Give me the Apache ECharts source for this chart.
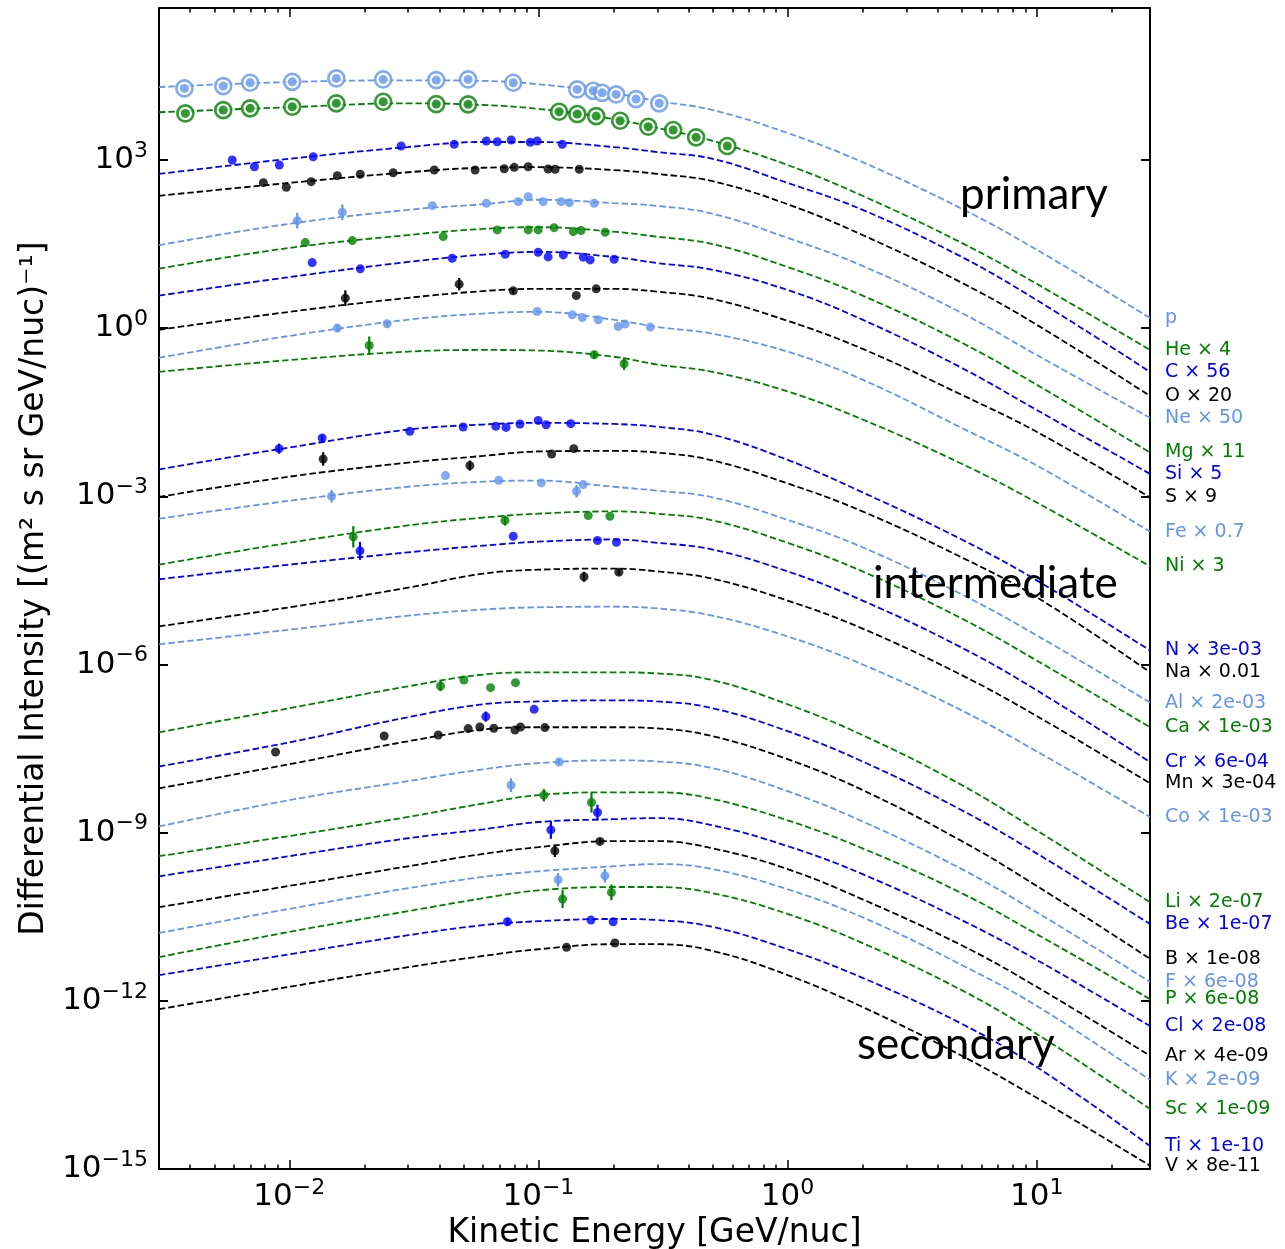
<!DOCTYPE html>
<html>
<head>
<meta charset="utf-8">
<script src="https://cdn.jsdelivr.net/npm/echarts@6/dist/echarts.min.js"></script>
<style>
  html, body { margin: 0; padding: 0; background: #fff; }
  #chart { width: 1285px; height: 1249px; }
</style>
</head>
<body>
<div id="chart"></div>
<script>
const energies = [0.003, 0.01, 0.03, 0.06, 0.1, 0.2, 0.3, 0.5, 1, 2, 5, 10, 28.5];

const labels = [
  'p', 'He × 4', 'C × 56', 'O × 20', 'Ne × 50', 'Mg × 11', 'Si × 5', 'S × 9', 'Fe × 0.7', 'Ni × 3',
  'N × 3e-03', 'Na × 0.01', 'Al × 2e-03', 'Ca × 1e-03', 'Cr × 6e-04', 'Mn × 3e-04', 'Co × 1e-03',
  'Li × 2e-07', 'Be × 1e-07', 'B × 1e-08', 'F × 6e-08', 'P × 6e-08', 'Cl × 2e-08', 'Ar × 4e-09',
  'K × 2e-09', 'Sc × 1e-09', 'Ti × 1e-10', 'V × 8e-11'
];

// model curves, log10 of intensity at each energy above
const curves = [
  [4.30, 4.39, 4.42, 4.41, 4.35, 4.19, 4.05, 3.89, 3.48, 2.96, 2.13, 1.40, 0.18],
  [3.85, 3.94, 4.01, 3.98, 3.91, 3.73, 3.57, 3.34, 2.91, 2.36, 1.52, 0.79, -0.39],
  [2.75, 3.02, 3.23, 3.32, 3.32, 3.23, 3.14, 3.02, 2.59, 2.11, 1.27, 0.50, -0.78],
  [2.36, 2.59, 2.78, 2.86, 2.87, 2.82, 2.75, 2.62, 2.21, 1.66, 0.81, 0.06, -1.21],
  [1.48, 1.86, 2.11, 2.21, 2.29, 2.23, 2.18, 2.04, 1.61, 1.11, 0.27, -0.48, -1.60],
  [1.06, 1.43, 1.66, 1.77, 1.80, 1.72, 1.63, 1.50, 1.09, 0.58, -0.26, -1.01, -2.22],
  [0.58, 0.91, 1.18, 1.31, 1.36, 1.27, 1.16, 1.04, 0.68, 0.15, -0.71, -1.46, -2.60],
  [-0.03, 0.29, 0.54, 0.66, 0.70, 0.70, 0.65, 0.52, 0.13, -0.37, -1.19, -1.85, -3.02],
  [-0.53, -0.14, 0.15, 0.26, 0.29, 0.15, 0.02, -0.10, -0.42, -0.92, -1.78, -2.45, -3.63],
  [-0.78, -0.57, -0.42, -0.39, -0.40, -0.51, -0.65, -0.78, -1.13, -1.63, -2.42, -3.11, -4.25],
  [-2.52, -2.13, -1.81, -1.72, -1.69, -1.71, -1.76, -1.90, -2.35, -2.93, -3.77, -4.50, -5.75],
  [-3.01, -2.65, -2.40, -2.28, -2.20, -2.19, -2.22, -2.36, -2.77, -3.27, -4.09, -4.80, -6.14],
  [-3.40, -3.08, -2.83, -2.74, -2.72, -2.83, -2.90, -3.02, -3.42, -3.91, -4.75, -5.48, -6.68],
  [-4.22, -3.83, -3.52, -3.38, -3.31, -3.27, -3.31, -3.43, -3.83, -4.34, -5.18, -5.93, -7.12],
  [-4.48, -4.22, -4.00, -3.88, -3.81, -3.77, -3.83, -3.95, -4.34, -4.86, -5.70, -6.46, -7.74],
  [-5.32, -4.98, -4.63, -4.38, -4.31, -4.29, -4.34, -4.47, -4.86, -5.36, -6.19, -6.92, -8.12],
  [-5.64, -5.38, -5.13, -5.02, -4.98, -4.97, -5.00, -5.13, -5.50, -6.00, -6.82, -7.55, -8.72],
  [-7.21, -6.78, -6.39, -6.18, -6.14, -6.14, -6.16, -6.28, -6.71, -7.26, -8.15, -8.96, -10.24],
  [-7.82, -7.39, -6.94, -6.71, -6.66, -6.64, -6.66, -6.78, -7.19, -7.73, -8.60, -9.37, -10.63],
  [-8.21, -7.78, -7.37, -7.16, -7.12, -7.12, -7.14, -7.28, -7.69, -8.24, -9.15, -9.95, -11.25],
  [-8.89, -8.42, -8.08, -7.87, -7.76, -7.71, -7.73, -7.85, -8.26, -8.80, -9.65, -10.42, -11.66],
  [-9.42, -9.06, -8.72, -8.48, -8.33, -8.28, -8.28, -8.40, -8.78, -9.28, -10.08, -10.81, -11.97],
  [-9.78, -9.42, -9.10, -8.94, -8.81, -8.76, -8.74, -8.87, -9.24, -9.74, -10.56, -11.27, -12.45],
  [-10.33, -9.95, -9.60, -9.38, -9.26, -9.15, -9.15, -9.28, -9.65, -10.19, -11.01, -11.75, -12.98],
  [-10.79, -10.36, -9.99, -9.79, -9.69, -9.60, -9.56, -9.65, -10.01, -10.51, -11.36, -12.09, -13.41],
  [-11.22, -10.77, -10.40, -10.17, -10.03, -9.97, -9.97, -10.08, -10.45, -10.97, -11.81, -12.59, -13.93],
  [-11.54, -11.17, -10.83, -10.65, -10.58, -10.54, -10.56, -10.68, -11.08, -11.59, -12.41, -13.18, -14.59],
  [-12.15, -11.75, -11.40, -11.20, -11.08, -10.99, -10.99, -11.11, -11.54, -12.11, -12.98, -13.73, -14.94]
];

// measured points: log10 energy, log10 intensity, error half-width (decades)
const ptsE = [
  [-2.421, -2.265, -2.157, -1.988, -1.811, -1.623, -1.410, -1.282, -1.101, -0.844, -0.780, -0.744, -0.688, -0.608, -0.515],
  [-2.417, -2.265, -2.157, -1.988, -1.811, -1.623, -1.410, -1.282, -0.917, -0.844, -0.768, -0.672, -0.559, -0.459, -0.367, -0.242],
  [-2.229, -2.140, -2.040, -1.904, -1.551, -1.338, -1.209, -1.165, -1.109, -1.033, -1.005, -0.904],
  [-2.104, -2.012, -1.912, -1.807, -1.715, -1.583, -1.418, -1.254, -1.137, -1.097, -1.041, -0.961, -0.933, -0.836],
  [-1.968, -1.787, -1.426, -1.209, -1.081, -1.041, -0.981, -0.909, -0.876, -0.776],
  [-1.936, -1.747, -1.382, -1.165, -1.041, -1.001, -0.937, -0.860, -0.829, -0.732],
  [-1.908, -1.715, -1.346, -1.133, -1.001, -0.961, -0.900, -0.820, -0.792, -0.696],
  [-1.775, -1.318, -1.101, -0.848, -0.768],
  [-1.807, -1.607, -1.005, -0.864, -0.824, -0.760, -0.680, -0.652, -0.551],
  [-1.679, -0.776, -0.656],
  [-2.041, -1.868, -1.516, -1.302, -1.171, -1.130, -1.074, -1.001, -0.969, -0.870],
  [-1.864, -1.275, -0.947, -0.858],
  [-1.830, -1.373, -1.159, -0.988, -0.847, -0.820],
  [-1.743, -1.134, -0.800, -0.713],
  [-1.716, -1.101, -0.763, -0.687],
  [-0.817, -0.677],
  [],
  [-1.393, -1.299, -1.192, -1.092],
  [-1.211, -1.017],
  [-2.055, -1.619, -1.402, -1.282, -1.235, -1.179, -1.094, -1.072, -0.974],
  [-1.110, -0.917],
  [-0.978, -0.787],
  [-0.950, -0.763],
  [-0.934, -0.753],
  [-0.921, -0.733],
  [-0.903, -0.707],
  [-1.124, -0.789, -0.700],
  [-0.887, -0.693]
];
const ptsI = [
  [4.276, 4.317, 4.376, 4.393, 4.454, 4.436, 4.424, 4.436, 4.376, 4.258, 4.233, 4.197, 4.169, 4.085, 4.009],
  [3.830, 3.889, 3.920, 3.948, 4.009, 4.037, 3.996, 3.991, 3.859, 3.818, 3.782, 3.699, 3.592, 3.533, 3.403, 3.248],
  [2.998, 2.879, 2.909, 3.057, 3.248, 3.278, 3.337, 3.325, 3.355, 3.314, 3.337, 3.278],
  [2.594, 2.512, 2.612, 2.719, 2.744, 2.772, 2.820, 2.820, 2.843, 2.868, 2.879, 2.838, 2.833, 2.833],
  [1.917, 2.067, 2.184, 2.227, 2.256, 2.345, 2.256, 2.256, 2.238, 2.227],
  [1.525, 1.561, 1.632, 1.751, 1.751, 1.751, 1.792, 1.721, 1.742, 1.710],
  [1.169, 1.057, 1.247, 1.318, 1.354, 1.270, 1.306, 1.265, 1.217, 1.229],
  [0.534, 0.784, 0.665, 0.581, 0.700],
  [0.000, 0.077, 0.296, 0.237, 0.189, 0.148, 0.029, 0.071, 0.018],
  [-0.310, -0.476, -0.636],
  [-2.150, -1.960, -1.842, -1.764, -1.753, -1.771, -1.710, -1.646, -1.723, -1.705],
  [-2.334, -2.453, -2.245, -2.150],
  [-3.000, -2.631, -2.715, -2.762, -2.911, -2.792],
  [-3.724, -3.433, -3.344, -3.357],
  [-3.973, -3.713, -3.789, -3.820],
  [-4.436, -4.354],
  [],
  [-6.385, -6.278, -6.414, -6.325],
  [-6.930, -6.800],
  [-7.561, -7.276, -7.258, -7.144, -7.116, -7.139, -7.169, -7.116, -7.126],
  [-8.154, -7.739],
  [-8.333, -8.463],
  [-8.951, -8.641],
  [-9.325, -9.157],
  [-9.841, -9.770],
  [-10.185, -10.066],
  [-10.590, -10.560, -10.590],
  [-11.046, -10.969]
];
const ptsErr = [
  [], [], [], [],
  [0.14, 0.14],
  [], [],
  [0.14, 0.11, 0.05],
  [0.07, 0.05],
  [0.16, 0.07, 0.11],
  [0.09, 0.05],
  [0.12, 0.09],
  [0.11, 0, 0, 0, 0.11],
  [0.19, 0.09],
  [0.16],
  [0.09, 0.05],
  [],
  [0.09],
  [0.09],
  [],
  [0.12, 0.05],
  [0.11, 0.18],
  [0.16, 0.14],
  [0.11, 0.05],
  [0.12, 0.12],
  [0.16, 0.14],
  [0.07],
  []
];

const xMajor = [-2, -1, 0, 1];
const yMajor = [-15, -12, -9, -6, -3, 0, 3];

const palette = ['#6495ed', '#008000', '#0000ff', '#000000'];
const FONT = 'DejaVu Sans';
const xMin = Math.log10(0.003), xMax = Math.log10(28.5);
const yMin = -15, yMax = 5.71;

const xMinor = [];
for (let k = -3; k <= 1; k++) {
  for (let m = 2; m <= 9; m++) {
    const v = k + Math.log10(m);
    if (v > xMin + 0.01 && v < xMax) xMinor.push(v);
  }
}

function powLabel(v) {
  return '{b|10}{s|' + String(Math.round(v)).replace('-', '\u2212') + '}';
}
const rich = {
  b: { fontSize: 31, lineHeight: 40, fontFamily: FONT, color: '#000' },
  s: { fontSize: 22, lineHeight: 22, verticalAlign: 'top', fontFamily: FONT, color: '#000' }
};
const frame = { show: true, onZero: false, lineStyle: { color: '#000', width: 2 } };

function xAxisDef(pos, ticks, len, withLabel) {
  return {
    type: 'value', min: xMin, max: xMax, position: pos,
    axisLine: withLabel !== null ? frame : { show: false, onZero: false },
    axisTick: { show: true, inside: true, length: len, customValues: ticks, lineStyle: { color: '#000', width: 1.5 } },
    axisLabel: withLabel ? { show: true, customValues: xMajor, formatter: powLabel, rich: rich, margin: 8 } : { show: false },
    splitLine: { show: false }
  };
}

const xAxes = [
  Object.assign(xAxisDef('bottom', xMajor, 9, true), {
    name: 'Kinetic Energy [GeV/nuc]', nameLocation: 'middle', nameGap: 42,
    nameTextStyle: { fontSize: 33, color: '#000', fontFamily: FONT }
  }),
  xAxisDef('bottom', xMinor, 4.5, null),
  xAxisDef('top', xMajor, 9, false),
  xAxisDef('top', xMinor, 4.5, null)
];

const yAxes = [
  {
    type: 'value', min: yMin, max: yMax, position: 'left',
    axisLine: frame,
    axisTick: { show: true, inside: true, length: 9, customValues: yMajor, lineStyle: { color: '#000', width: 2 } },
    axisLabel: { show: true, customValues: yMajor, formatter: powLabel, rich: rich, margin: 11 },
    splitLine: { show: false },
    name: 'Differential Intensity [(m\u00b2 s sr GeV/nuc)\u207b\u00b9]',
    nameLocation: 'middle', nameGap: 104, nameRotate: 90,
    nameTextStyle: { fontSize: 33, color: '#000', fontFamily: FONT }
  },
  {
    type: 'value', min: yMin, max: yMax, position: 'right',
    axisLine: frame,
    axisTick: { show: true, inside: true, length: 9, customValues: yMajor, lineStyle: { color: '#000', width: 2 } },
    axisLabel: { show: false },
    splitLine: { show: false }
  }
];

const series = [];
labels.forEach(function (lab, i) {
  const col = palette[i % 4];
  series.push({
    type: 'line', name: lab,
    data: energies.map(function (e, j) { return [Math.log10(e), curves[i][j]]; }),
    showSymbol: false, smooth: 0.4, silent: true, z: 2,
    itemStyle: { color: col },
    lineStyle: { color: col, width: 1.8, type: [6.5, 3] },
    endLabel: {
      show: true, formatter: function (p) { return p.seriesName; },
      color: col, fontSize: 19, fontFamily: FONT, distance: 15
    }
  });
});

const errData = [];
ptsE.forEach(function (arr, i) {
  arr.forEach(function (e, j) {
    const d = ptsErr[i][j] || 0;
    if (d > 0) errData.push([e, ptsI[i][j] - d, ptsI[i][j] + d, i % 4]);
  });
});
series.push({
  type: 'custom', data: errData, encode: { x: 0, y: [1, 2] }, z: 3, silent: true,
  renderItem: function (params, api) {
    const a = api.coord([api.value(0), api.value(1)]);
    const b = api.coord([api.value(0), api.value(2)]);
    return {
      type: 'line',
      shape: { x1: a[0], y1: a[1], x2: b[0], y2: b[1] },
      style: { stroke: palette[api.value(3)], lineWidth: 2.2 }
    };
  }
});

ptsE.forEach(function (arr, i) {
  if (!arr.length) return;
  const col = palette[i % 4];
  const data = arr.map(function (e, j) { return [e, ptsI[i][j]]; });
  if (i < 2) {
    series.push({
      type: 'scatter', data: data, symbolSize: 16, silent: true, z: 4,
      itemStyle: { color: '#fff', borderColor: col, borderWidth: 2.6 }
    });
  }
  series.push({
    type: 'scatter', data: data, symbolSize: 9, silent: true, z: 5,
    itemStyle: { color: col }
  });
});

function note(text, x, y) {
  return {
    type: 'text', x: x, y: y, z: 10,
    style: { text: text, fontSize: 44, fontFamily: 'Lato', fill: '#000', verticalAlign: 'middle', textVerticalAlign: 'middle' }
  };
}

const chart = echarts.init(document.getElementById('chart'));
chart.setOption({
  animation: false,
  backgroundColor: '#fff',
  textStyle: { fontFamily: FONT },
  grid: { left: 159, right: 135, top: 8, bottom: 80, containLabel: false, outerBoundsMode: 'none' },
  xAxis: xAxes,
  yAxis: yAxes,
  series: series,
  graphic: [
    note('primary', 960, 195),
    note('intermediate', 873, 584),
    note('secondary', 857, 1045)
  ]
});
</script>
</body>
</html>
